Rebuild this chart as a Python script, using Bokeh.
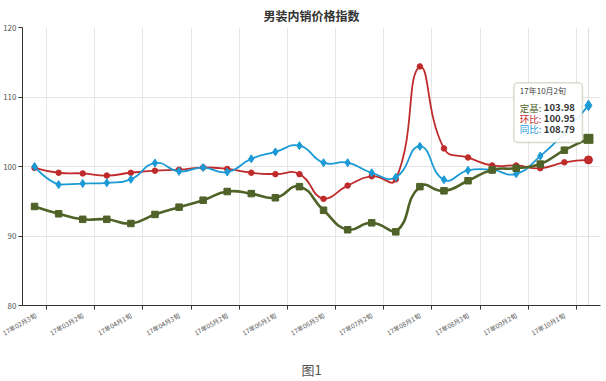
import math
from bokeh.plotting import figure
from bokeh.models import FixedTicker, Range1d, BoxAnnotation, Label, Span, Title
from bokeh.embed import file_html
from bokeh.resources import INLINE

categories = ["17年02月3旬", "17年03月1旬", "17年03月2旬", "17年03月3旬", "17年04月1旬",
              "17年04月2旬", "17年04月3旬", "17年05月1旬", "17年05月2旬", "17年05月3旬",
              "17年06月1旬", "17年06月2旬", "17年06月3旬", "17年07月1旬", "17年07月2旬",
              "17年07月3旬", "17年08月1旬", "17年08月2旬", "17年08月3旬", "17年09月1旬",
              "17年09月2旬", "17年09月3旬", "17年10月1旬", "17年10月2旬"]
dingji = [94.25, 93.2, 92.4, 92.4, 91.8, 93.1, 94.15, 95.15, 96.4, 96.1, 95.5, 97.1,
          93.7, 90.9, 91.9, 90.6, 97.1, 96.5, 97.95, 99.5, 99.75, 100.35, 102.35, 103.98]
huanbi = [99.8, 99.1, 99.0, 98.7, 99.1, 99.4, 99.55, 99.85, 99.65, 99.1, 98.9, 98.9,
          95.35, 97.25, 98.6, 98.15, 114.4, 102.6, 101.3, 100.15, 100.15, 99.75, 100.6, 100.95]
tongbi = [100.0, 97.4, 97.55, 97.65, 98.15, 100.5, 99.3, 99.85, 99.2, 101.1, 102.1, 103.0,
          100.55, 100.55, 99.1, 98.45, 102.9, 98.1, 99.45, 99.5, 98.95, 101.5, 104.8, 108.79]
series_names = ["定基", "环比", "同比"]
y_ticks = [80, 90, 100, 110, 120]

FONT = "Noto Sans CJK SC"
GREEN = "#4f6228"
RED = "#bf2a2a"
BLUE = "#1b9ad6"

n = len(categories)
xs = list(range(n))

p = figure(width=606, height=381, output_backend="svg", toolbar_location=None,
           x_range=Range1d(-0.5, n - 0.5), y_range=Range1d(80, 120),
           min_border_left=2, min_border_right=6, min_border_top=2, min_border_bottom=0)
p.outline_line_color = None
p.background_fill_color = "white"

p.title.text = "男装内销价格指数"
p.title.align = "center"
p.title.text_font = FONT
p.title.text_font_size = "12px"
p.title.text_font_style = "bold"
p.title.text_color = "#333333"
p.title.standoff = 8

# axes
p.yaxis.ticker = FixedTicker(ticks=y_ticks)
p.yaxis.major_label_text_font = FONT
p.yaxis.major_label_text_font_size = "8px"
p.yaxis.major_label_text_color = "#555555"
p.yaxis.axis_line_color = "#333333"
p.yaxis.major_tick_line_color = "#333333"
p.yaxis.major_tick_out = 4
p.yaxis.major_tick_in = 0
p.yaxis.minor_tick_out = 0
p.yaxis.minor_tick_in = 0
p.yaxis.major_label_standoff = 2

label_idx = list(range(0, n, 2))
bound_idx = [i + 0.5 for i in range(0, n - 1, 2)]
p.xaxis.ticker = FixedTicker(ticks=label_idx, minor_ticks=bound_idx)
p.xaxis.major_label_overrides = {i: categories[i] for i in label_idx}
p.xaxis.major_label_orientation = math.pi / 6
p.xaxis.major_label_text_font = FONT
p.xaxis.major_label_text_font_size = "6.5px"
p.xaxis.major_label_text_color = "#555555"
p.xaxis.major_label_standoff = 5
p.xaxis.axis_line_color = "#333333"
p.xaxis.major_tick_out = 0
p.xaxis.major_tick_in = 0
p.xaxis.minor_tick_out = 4
p.xaxis.minor_tick_in = 0
p.xaxis.minor_tick_line_color = "#333333"
p.xaxis.axis_label = " "
p.xaxis.axis_label_text_font_size = "7px"
p.xaxis.axis_label_standoff = 0

p.xgrid.ticker = FixedTicker(ticks=bound_idx)
p.ygrid.ticker = FixedTicker(ticks=y_ticks)
p.xgrid.grid_line_color = "#e6e6e6"
p.ygrid.grid_line_color = "#e6e6e6"

# hover axis pointer at the last category
p.add_layout(Span(location=xs[-1], dimension="height", line_color="#dddddd",
                  line_width=1, level="underlay"))


def smooth_segments(xv, yv, smooth=0.5, sx=24.25, sy=6.87):
    pts = [(x * sx, y * sy) for x, y in zip(xv, yv)]
    mnx = min(q[0] for q in pts); mxx = max(q[0] for q in pts)
    mny = min(q[1] for q in pts); mxy = max(q[1] for q in pts)

    def clamp(c):
        return (min(max(c[0], mnx), mxx), min(max(c[1], mny), mxy))

    out = {k: [] for k in ("x0", "y0", "x1", "y1", "cx0", "cy0", "cx1", "cy1")}
    cp0 = pts[0]
    m = len(pts)
    for k in range(1, m):
        pt = pts[k]
        prev = pts[k - 1]
        if k + 1 < m:
            nxt = pts[k + 1]
            v = (nxt[0] - prev[0], nxt[1] - prev[1])
            lp = math.dist(pt, prev)
            ln = math.dist(pt, nxt)
            r = ln / (ln + lp)
            cp1 = (pt[0] - v[0] * smooth * (1 - r), pt[1] - v[1] * smooth * (1 - r))
        else:
            v = (0.0, 0.0)
            r = 0.0
            cp1 = pt
        c0 = clamp(cp0)
        c1 = clamp(cp1)
        out["x0"].append(prev[0] / sx); out["y0"].append(prev[1] / sy)
        out["x1"].append(pt[0] / sx); out["y1"].append(pt[1] / sy)
        out["cx0"].append(c0[0] / sx); out["cy0"].append(c0[1] / sy)
        out["cx1"].append(c1[0] / sx); out["cy1"].append(c1[1] / sy)
        cp0 = (pt[0] + v[0] * smooth * r, pt[1] + v[1] * smooth * r)
    return out


for vals, color, lw, marker, msize in [
    (huanbi, RED, 1.8, "circle", 5.5),
    (tongbi, BLUE, 1.8, "diamond", 8),
    (dingji, GREEN, 2.6, "square", 6.5),
]:
    seg = smooth_segments(xs, vals)
    p.bezier(line_color=color, line_width=lw, **seg)
    p.scatter(xs[:-1], vals[:-1], marker=marker, size=msize, color=color)
    p.scatter(xs[-1:], vals[-1:], marker=marker, size=msize + 2.5, color=color)

# static tooltip for the last category
p.add_layout(BoxAnnotation(left=19.9, right=22.75, bottom=103.45, top=112.05,
                           fill_color="white", fill_alpha=0.92,
                           line_color="#7d8a60", line_width=1.5, border_radius=4))
p.add_layout(Label(x=20.15, y=110.9, text=categories[-1], text_font=FONT,
                   text_font_size="8px", text_color="#444444", text_baseline="middle"))
tip_rows = [(series_names[0], dingji[-1], GREEN, 108.45),
            (series_names[1], huanbi[-1], RED, 106.9),
            (series_names[2], tongbi[-1], BLUE, 105.35)]
for name, val, color, yy in tip_rows:
    p.add_layout(Label(x=20.15, y=yy, text=name + ":", text_font=FONT,
                       text_font_size="9.5px", text_color=color, text_baseline="middle"))
    p.add_layout(Label(x=20.15, y=yy, x_offset=24, text=f"{val:.2f}", text_font=FONT,
                       text_font_size="9.5px", text_font_style="bold",
                       text_color="#333333", text_baseline="middle"))

p.add_layout(Title(text="图1", align="center", text_font=FONT, text_font_size="13px",
                   text_font_style="normal", text_color="#555555", standoff=6), "below")

open("out.html", "w").write(file_html(p, INLINE))
